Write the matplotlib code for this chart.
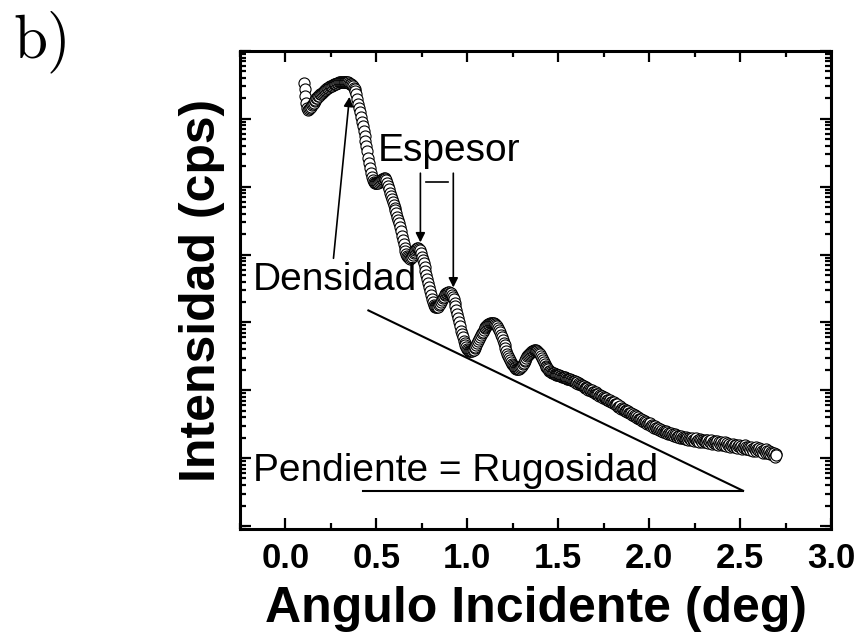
import numpy as np
import matplotlib
matplotlib.use("Agg")
import matplotlib.pyplot as plt
from matplotlib.ticker import MultipleLocator, LogLocator, NullFormatter, FormatStrFormatter

plt.rcParams['font.family'] = ['Liberation Sans', 'DejaVu Sans']
plt.rcParams['font.weight'] = 'bold'
plt.rcParams['mathtext.fontset'] = 'cm'

# reflectivity scan: angle (deg) from 0.10 to 2.70 in 0.005 steps
angle = np.linspace(0.10, 2.70, 521)
# decade exponent of the intensity (cps), 10 points per row
log_counts = [
    6.53, 6.44, 6.34, 6.24, 6.16, 6.13, 6.14, 6.16, 6.18, 6.20,
    6.22, 6.24, 6.26, 6.28, 6.30, 6.31, 6.33, 6.34, 6.36, 6.37,
    6.38, 6.39, 6.41, 6.42, 6.43, 6.44, 6.45, 6.46, 6.47, 6.48,
    6.48, 6.49, 6.50, 6.51, 6.51, 6.52, 6.52, 6.53, 6.53, 6.54,
    6.54, 6.54, 6.55, 6.55, 6.55, 6.55, 6.55, 6.55, 6.55, 6.54,
    6.53, 6.52, 6.51, 6.50, 6.48, 6.46, 6.44, 6.41, 6.36, 6.29,
    6.22, 6.16, 6.10, 6.03, 5.96, 5.89, 5.82, 5.75, 5.68, 5.60,
    5.52, 5.43, 5.35, 5.27, 5.20, 5.14, 5.10, 5.07, 5.06, 5.05,
    5.05, 5.05, 5.06, 5.07, 5.08, 5.10, 5.11, 5.12, 5.13, 5.13,
    5.12, 5.10, 5.06, 5.01, 4.96, 4.91, 4.86, 4.82, 4.77, 4.73,
    4.69, 4.65, 4.61, 4.56, 4.51, 4.46, 4.40, 4.34, 4.28, 4.22,
    4.16, 4.10, 4.05, 4.01, 3.98, 3.96, 3.95, 3.94, 3.95, 3.97,
    3.99, 4.02, 4.04, 4.06, 4.08, 4.09, 4.09, 4.08, 4.06, 4.02,
    3.97, 3.92, 3.87, 3.82, 3.76, 3.70, 3.64, 3.58, 3.52, 3.46,
    3.40, 3.35, 3.30, 3.26, 3.24, 3.22, 3.22, 3.22, 3.23, 3.25,
    3.27, 3.30, 3.33, 3.36, 3.38, 3.40, 3.42, 3.43, 3.44, 3.45,
    3.45, 3.44, 3.43, 3.41, 3.38, 3.34, 3.29, 3.24, 3.18, 3.12,
    3.06, 3.00, 2.94, 2.88, 2.83, 2.78, 2.73, 2.69, 2.66, 2.63,
    2.61, 2.59, 2.58, 2.58, 2.58, 2.58, 2.59, 2.60, 2.62, 2.64,
    2.66, 2.69, 2.72, 2.75, 2.78, 2.81, 2.84, 2.86, 2.89, 2.91,
    2.93, 2.95, 2.96, 2.97, 2.98, 2.99, 2.99, 2.99, 2.99, 2.99,
    2.98, 2.97, 2.96, 2.94, 2.92, 2.89, 2.86, 2.82, 2.78, 2.74,
    2.70, 2.66, 2.62, 2.58, 2.54, 2.50, 2.47, 2.44, 2.41, 2.39,
    2.37, 2.35, 2.34, 2.33, 2.32, 2.32, 2.32, 2.32, 2.33, 2.34,
    2.36, 2.38, 2.40, 2.43, 2.45, 2.48, 2.50, 2.52, 2.54, 2.55,
    2.57, 2.58, 2.58, 2.59, 2.59, 2.59, 2.58, 2.58, 2.57, 2.55,
    2.53, 2.51, 2.48, 2.45, 2.42, 2.39, 2.36, 2.34, 2.33, 2.31,
    2.29, 2.28, 2.27, 2.26, 2.25, 2.25, 2.24, 2.24, 2.23, 2.23,
    2.22, 2.22, 2.21, 2.21, 2.20, 2.20, 2.19, 2.19, 2.18, 2.18,
    2.17, 2.17, 2.16, 2.16, 2.15, 2.15, 2.14, 2.13, 2.13, 2.12,
    2.11, 2.12, 2.09, 2.10, 2.09, 2.07, 2.08, 2.06, 2.06, 2.04,
    2.05, 2.03, 2.04, 2.01, 2.02, 2.01, 1.99, 2.00, 1.98, 1.98,
    1.96, 1.98, 1.95, 1.94, 1.95, 1.92, 1.93, 1.91, 1.92, 1.89,
    1.90, 1.88, 1.87, 1.89, 1.85, 1.86, 1.84, 1.85, 1.82, 1.83,
    1.81, 1.82, 1.79, 1.80, 1.78, 1.79, 1.76, 1.75, 1.77, 1.73,
    1.74, 1.72, 1.73, 1.70, 1.71, 1.70, 1.68, 1.69, 1.66, 1.67,
    1.66, 1.64, 1.65, 1.62, 1.63, 1.61, 1.62, 1.59, 1.60, 1.57,
    1.58, 1.57, 1.55, 1.56, 1.53, 1.55, 1.52, 1.53, 1.50, 1.52,
    1.50, 1.51, 1.48, 1.49, 1.47, 1.45, 1.48, 1.44, 1.45, 1.43,
    1.44, 1.41, 1.43, 1.40, 1.42, 1.39, 1.40, 1.38, 1.40, 1.37,
    1.38, 1.36, 1.37, 1.35, 1.37, 1.34, 1.35, 1.33, 1.36, 1.32,
    1.34, 1.31, 1.33, 1.32, 1.30, 1.33, 1.29, 1.31, 1.30, 1.28,
    1.31, 1.28, 1.30, 1.27, 1.29, 1.28, 1.26, 1.30, 1.27, 1.25,
    1.28, 1.26, 1.29, 1.25, 1.27, 1.24, 1.28, 1.26, 1.23, 1.27,
    1.25, 1.23, 1.27, 1.24, 1.26, 1.22, 1.25, 1.23, 1.26, 1.21,
    1.24, 1.22, 1.25, 1.21, 1.23, 1.25, 1.20, 1.23, 1.21, 1.24,
    1.20, 1.22, 1.19, 1.23, 1.20, 1.18, 1.22, 1.19, 1.21, 1.17,
    1.20, 1.18, 1.21, 1.16, 1.19, 1.17, 1.20, 1.15, 1.18, 1.19,
    1.16, 1.18, 1.14, 1.17, 1.15, 1.19, 1.14, 1.16, 1.13, 1.17,
    1.15, 1.12, 1.16, 1.14, 1.11, 1.15, 1.13, 1.16, 1.10, 1.14,
    1.12, 1.15, 1.10, 1.13, 1.11, 1.08, 1.12, 1.10, 1.13, 1.07,
    1.10, 1.08, 1.11, 1.06, 1.09, 1.07, 1.04, 1.08, 1.02, 1.06,
    1.05,
]
intensity = 10.0 ** np.array(log_counts)

x_ticks = [0.0, 0.5, 1.0, 1.5, 2.0, 2.5, 3.0]

fig = plt.figure(figsize=(8.59, 6.38), dpi=100)
ax = fig.add_axes([0.2794, 0.1708, 0.688, 0.7493])

ax.plot(angle, intensity, linestyle='none', marker='o', markersize=8,
        markerfacecolor='white', markeredgecolor='black', markeredgewidth=0.8)

ax.set_yscale('log')
ax.set_xlim(-0.25, 3.0)
ax.set_ylim(0.9, 1.0e7)

ax.set_xticks(x_ticks)
ax.xaxis.set_major_formatter(FormatStrFormatter('%.1f'))
ax.xaxis.set_minor_locator(MultipleLocator(0.25))
ax.yaxis.set_major_locator(LogLocator(base=10, numticks=20))
ax.yaxis.set_minor_locator(LogLocator(base=10, subs=np.arange(2, 10), numticks=20))
ax.yaxis.set_major_formatter(NullFormatter())
ax.yaxis.set_minor_formatter(NullFormatter())

ax.tick_params(which='both', direction='in', top=True, right=True, width=1.6)
ax.tick_params(which='major', length=8, labelsize=25, pad=9)
ax.tick_params(which='minor', length=4)
for s in ax.spines.values():
    s.set_linewidth(2.2)

ax.set_xlabel('Angulo Incidente (deg)', fontsize=36, fontweight='bold', labelpad=8)
ax.set_ylabel('Intensidad (cps)', fontsize=36, fontweight='bold', labelpad=2)

# annotations
arrow = dict(arrowstyle='-|>', color='black', lw=1.2, mutation_scale=14,
             shrinkA=0, shrinkB=0)
ax.text(-0.181, 2.95e3, 'Densidad', fontsize=28, fontweight='normal')
ax.annotate('', xy=(0.352, 2.11e6), xytext=(0.264, 8.8e3), arrowprops=arrow)

ax.text(0.505, 2.39e5, 'Espesor', fontsize=28, fontweight='normal')
ax.annotate('', xy=(0.742, 1.51e4), xytext=(0.742, 1.58e5), arrowprops=arrow)
ax.annotate('', xy=(0.923, 3.27e3), xytext=(0.923, 1.58e5), arrowprops=arrow)
ax.plot([0.775, 0.896], [1.17e5, 1.17e5], color='black', lw=1.2)

ax.text(-0.181, 4.57, 'Pendiente = Rugosidad', fontsize=28, fontweight='normal')
ax.plot([0.456, 2.516], [1.5e3, 3.3], color='black', lw=1.5)
ax.plot([0.429, 2.516], [3.3, 3.3], color='black', lw=1.5)

fig.text(0.015, 0.91, r'$\mathrm{b)}$', fontsize=44)

fig.savefig('out.png', dpi=100)
